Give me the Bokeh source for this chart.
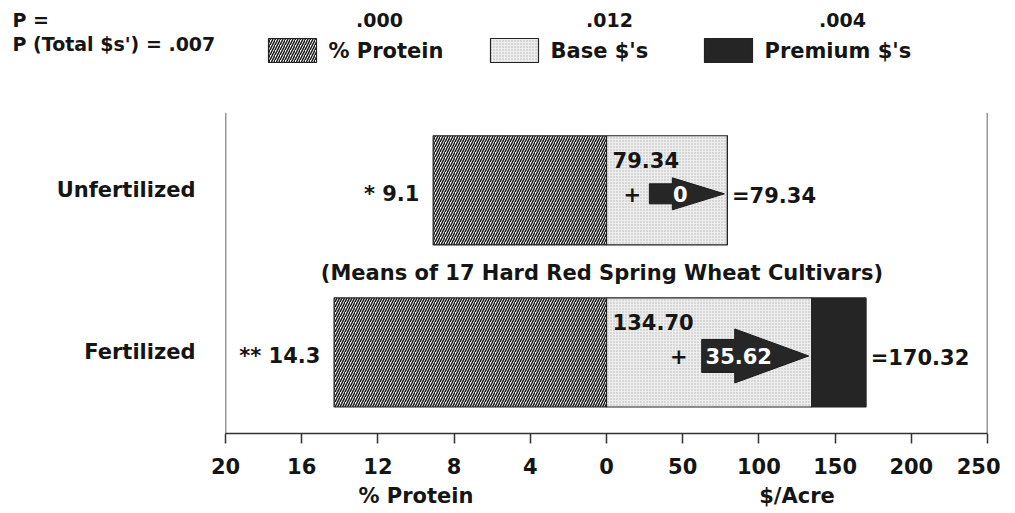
from bokeh.plotting import figure
from bokeh.models import Range1d, FixedTicker, Span, ColumnDataSource, LinearAxis
from bokeh.embed import file_html
from bokeh.resources import INLINE
from bokeh.core.properties import value

# ---------------- data ----------------
treatments = ["Unfertilized", "Fertilized"]
protein = [9.1, 14.3]
protein_sig = ["*", "**"]
base_dollars = [79.34, 134.70]
premium_dollars = [0.0, 35.62]
total_dollars = [79.34, 170.32]
series_names = ["% Protein", "Base $'s", "Premium $'s"]
series_p = [".000", ".012", ".004"]
p_total = ".007"
protein_ticks = [20, 16, 12, 8, 4, 0]
dollar_ticks = [0, 50, 100, 150, 200, 250]
axis_titles = ["% Protein", "$/Acre"]
subtitle = "(Means of 17 Hard Red Spring Wheat Cultivars)"

# ---------------- layout / style ----------------
W = 1000
HEAD_H = 112
H = 401
BL, BR, BT, BB = 225, 13, 0, 80
FW = W - BL - BR
FH = H - BT - BB
PROT = 12.5                      # dollar-axis units per % protein
X0, X1 = -max(protein_ticks) * PROT, max(dollar_ticks)
Y0, Y1 = 0, 2
PX = (X1 - X0) / FW
PY = (Y1 - Y0) / FH
row_y = [1.515, 0.505]
bar_h = 0.68
FONT = "DejaVu Sans"
TXT = "#151515"

arrow_len_px = [75, 107]
head_len_px = [52, 74]
body_half_px = [10, 16.5]
head_half_px = [16, 27]
arrow_text_dx_px = [31, 37]
plus_dx_px = [17, 23]

STYLE = [
    dict(fill_color="white", hatch_pattern="/", hatch_color="#1a1a1a",
         hatch_scale=5, hatch_weight=1.5, line_color="#222222", line_width=1.2),
    dict(fill_color="#ededed", hatch_pattern=".", hatch_color="#b5b5b5",
         hatch_scale=3, hatch_weight=1, line_color="#222222", line_width=1.2),
    dict(fill_color="#252525", line_color="#222222", line_width=1.2),
]


def txt(**kw):
    d = dict(text_font=value(FONT), text_font_size="21px", text_font_style="bold",
             text_color=TXT, text_baseline="middle")
    d.update(kw)
    return d


# ================= main chart =================
p = figure(width=W, height=H, x_range=Range1d(X0, X1), y_range=Range1d(Y0, Y1),
           output_backend="svg", toolbar_location=None,
           min_border_left=BL, min_border_right=BR, min_border_top=BT, min_border_bottom=BB)
p.outline_line_color = None
p.grid.visible = False

tops = [b + q for b, q in zip(base_dollars, premium_dollars)]
src = ColumnDataSource(dict(
    y=row_y,
    prot_left=[-v * PROT for v in protein],
    zero=[0] * len(protein),
    base=base_dollars,
    top=tops,
))

p.hbar(y="y", left="prot_left", right="zero", height=bar_h, source=src, **STYLE[0])
p.hbar(y="y", left="zero", right="base", height=bar_h, source=src, **STYLE[1])
p.hbar(y="y", left="base", right="top", height=bar_h, source=src, **STYLE[2])

# arrows (premium) pointing at the end of base
axs, ays = [], []
for i in range(len(treatments)):
    tip = base_dollars[i] - 2
    tail = tip - arrow_len_px[i] * PX
    hb = tip - head_len_px[i] * PX
    yc = row_y[i] - 3.5 * PY
    bh = body_half_px[i] * PY
    hh = head_half_px[i] * PY
    axs.append([tail, hb, hb, tip, hb, hb, tail])
    ays.append([yc - bh, yc - bh, yc - hh, yc, yc + hh, yc + bh, yc + bh])
p.patches(axs, ays, fill_color="#262626", line_color="#1a1a1a", line_width=1)
tails = [xs[0] for xs in axs]

p.text(x=[-v * PROT - 9 for v in protein], y=[y - 4 * PY for y in row_y],
       text=[f"{s} {v:.1f}" for s, v in zip(protein_sig, protein)],
       **txt(text_align="right"))
p.text(x=[4] * len(base_dollars), y=[y + 30 * PY for y in row_y],
       text=[f"{v:.2f}" for v in base_dollars], **txt(text_align="left"))
p.text(x=[t - d * PX for t, d in zip(tails, plus_dx_px)], y=[y - 4 * PY for y in row_y],
       text=["+"] * len(row_y), **txt(text_align="center"))
p.text(x=[t + d * PX for t, d in zip(tails, arrow_text_dx_px)], y=[y - 3.5 * PY for y in row_y],
       text=[f"{v:.2f}" if v else "0" for v in premium_dollars],
       **txt(text_align="center", text_color="white"))
p.text(x=[t + 3 for t in tops], y=[y - 5.5 * PY for y in row_y],
       text=[f"={v:.2f}" for v in total_dollars], **txt(text_align="left"))
p.text(x=[-3], y=[1.0], text=[subtitle], **txt(text_align="center"))

for loc in (X0, X1):
    p.add_layout(Span(location=loc, dimension="height", line_color="#333333", line_width=1.5))

# x axis: protein on the left half, dollars on the right half
xt = [round(-t * PROT) for t in protein_ticks] + dollar_ticks[1:]
ov = {round(-t * PROT): str(t) for t in protein_ticks}
ov.update({d: str(d) for d in dollar_ticks})
ax = p.xaxis[0]
ax.ticker = FixedTicker(ticks=xt, minor_ticks=[])
ax.major_label_overrides = ov
ax.axis_line_color = "#333333"
ax.axis_line_width = 1.5
ax.major_tick_line_color = "#333333"
ax.major_tick_line_width = 1.5
ax.major_tick_in = 0
ax.major_tick_out = 10
ax.minor_tick_line_color = None
ax.major_label_standoff = 14
ax.major_label_text_font = FONT
ax.major_label_text_font_size = "21px"
ax.major_label_text_font_style = "bold"
ax.major_label_text_color = TXT

# second axis row carrying the two axis titles
tpos = [round(X0 / 2), round(X1 / 2)]
ax2 = LinearAxis(ticker=FixedTicker(ticks=tpos, minor_ticks=[]),
                 major_label_overrides={t: s for t, s in zip(tpos, axis_titles)},
                 axis_line_color=None, major_tick_line_color=None, minor_tick_line_color=None,
                 major_tick_in=0, major_tick_out=0, major_label_standoff=7,
                 major_label_text_font=FONT, major_label_text_font_size="21px",
                 major_label_text_font_style="bold", major_label_text_color=TXT)
p.add_layout(ax2, "below")

ay = p.yaxis[0]
ay.ticker = FixedTicker(ticks=row_y, minor_ticks=[])
ay.major_label_overrides = {y: t for y, t in zip(row_y, treatments)}
ay.axis_line_color = None
ay.major_tick_line_color = None
ay.minor_tick_line_color = None
ay.major_tick_in = 0
ay.major_tick_out = 0
ay.major_label_standoff = 30
ay.major_label_text_font = FONT
ay.major_label_text_font_size = "21px"
ay.major_label_text_font_style = "bold"
ay.major_label_text_color = TXT

# ================= header: p-values and legend =================
hd = figure(width=W, height=HEAD_H, x_range=Range1d(0, W), y_range=Range1d(HEAD_H, 0),
            output_backend="svg", toolbar_location=None,
            min_border_left=0, min_border_right=0, min_border_top=0, min_border_bottom=0)
hd.axis.visible = False
hd.grid.visible = False
hd.outline_line_color = None

leg_x = [268, 490, 704]
SW_W, SW_H, SW_Y, LBL_GAP = 48, 24, 50, 12
for st, lx in zip(STYLE, leg_x):
    hd.hbar(y=[SW_Y], left=[lx], right=[lx + SW_W], height=SW_H, **st)
hd.text(x=[lx + SW_W + LBL_GAP for lx in leg_x], y=[SW_Y] * 3, text=series_names,
        **txt(text_align="left"))

htxt = dict(text_font=value(FONT), text_font_size="19px", text_font_style="bold",
            text_color=TXT, text_baseline="middle")
hd.text(x=[12, 12], y=[19, 43], text=["P =", f"P (Total $s') = {p_total}"],
        text_align="left", **htxt)
hd.text(x=[379, 609, 842], y=[19] * 3, text=series_p, text_align="center", **htxt)

open("out.html", "w").write(file_html([hd, p], INLINE))
